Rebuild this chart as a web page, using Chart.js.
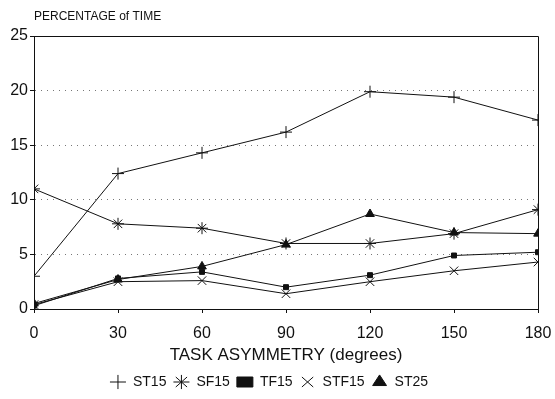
<!DOCTYPE html>
<html>
<head>
<meta charset="utf-8">
<script src="https://cdn.jsdelivr.net/npm/chart.js@4/dist/chart.umd.min.js"></script>
<style>
  html, body { margin: 0; padding: 0; background: #fff; }
  #wrap { width: 555px; height: 399px; }
</style>
</head>
<body>
<div id="wrap"><canvas id="chart"></canvas></div>
<script>
// data
const angles = [0, 30, 60, 90, 120, 150, 180];
const st15 = [3.0, 12.4, 14.3, 16.2, 19.9, 19.4, 17.3];
const sf15 = [11.0, 7.8, 7.4, 6.0, 6.0, 6.9, 9.1];
const tf15 = [0.3, 2.8, 3.4, 2.0, 3.1, 4.9, 5.2];
const stf15 = [0.4, 2.5, 2.6, 1.4, 2.5, 3.5, 4.3];
const st25 = [0.5, 2.7, 3.9, 5.9, 8.7, 7.0, 6.9];

const FONT = 'Liberation Sans, Arial, sans-serif';

function points(vals) {
    return angles.map((a, i) => ({ x: a, y: vals[i] }));
}

function series(label, vals, style, radius) {
    return {
        label: label,
        data: points(vals),
        borderColor: '#111',
        backgroundColor: '#111',
        borderWidth: 1,
        pointStyle: style,
        pointRadius: radius,
        pointBorderWidth: 1,
        pointHoverRadius: radius,
        tension: 0
    };
}

// frame around the plot + y axis caption
const framePlugin = {
    id: 'frame',
    afterDraw(chart) {
        const ctx = chart.ctx;
        const a = chart.chartArea;
        ctx.save();
        ctx.strokeStyle = '#111';
        ctx.lineWidth = 1;
        ctx.beginPath();
        ctx.moveTo(a.left, a.top + 0.5);
        ctx.lineTo(a.right + 0.5, a.top + 0.5);
        ctx.lineTo(a.right + 0.5, a.bottom);
        ctx.stroke();
        ctx.fillStyle = '#111';
        ctx.font = '12px ' + FONT;
        ctx.textBaseline = 'bottom';
        ctx.fillText('PERCENTAGE of TIME', a.left, a.top - 13);
        ctx.restore();
    }
};

let myChart = new Chart(document.getElementById('chart'), {
    type: 'line',
    data: {
        datasets: [
            series('ST15', st15, 'cross', 6),
            series('SF15', sf15, 'star', 6),
            series('TF15', tf15, 'rect', 3.5),
            series('STF15', stf15, 'crossRot', 6),
            series('ST25', st25, 'triangle', 5)
        ]
    },
    options: {
        responsive: true,
        maintainAspectRatio: false,
        animation: false,
        layout: { padding: { top: 36, right: 17, left: 0, bottom: 0 } },
        plugins: {
            tooltip: { enabled: false },
            legend: {
                position: 'bottom',
                labels: {
                    usePointStyle: true,
                    pointStyleWidth: 16,
                    boxWidth: 12,
                    boxHeight: 10,
                    padding: 7,
                    color: '#111',
                    font: { family: FONT, size: 14 }
                }
            }
        },
        scales: {
            x: {
                type: 'linear',
                min: 0,
                max: 180,
                ticks: {
                    stepSize: 30,
                    color: '#111',
                    padding: 11,
                    font: { family: FONT, size: 16 }
                },
                grid: {
                    drawOnChartArea: false,
                    tickLength: 4,
                    color: '#111'
                },
                border: { color: '#111', width: 1 },
                title: {
                    display: true,
                    text: 'TASK ASYMMETRY (degrees)',
                    color: '#111',
                    font: { family: FONT, size: 17 },
                    padding: { top: 6, bottom: 2 }
                },
                afterFit(scale) {
                    scale.height = 59;
                    scale.paddingRight = 0;
                }
            },
            y: {
                min: 0,
                max: 25,
                ticks: {
                    stepSize: 5,
                    color: '#111',
                    padding: 2,
                    font: { family: FONT, size: 16 }
                },
                grid: {
                    color: (c) => (c.tick && (c.tick.value === 0 || c.tick.value === 25)) ? 'rgba(0,0,0,0)' : '#777',
                    tickColor: '#111',
                    tickLength: 4,
                    lineWidth: 1
                },
                border: { color: '#111', width: 1, dash: [1, 5] },
                afterFit(scale) { scale.width = 34; }
            }
        }
    },
    plugins: [framePlugin]
});
</script>
</body>
</html>
